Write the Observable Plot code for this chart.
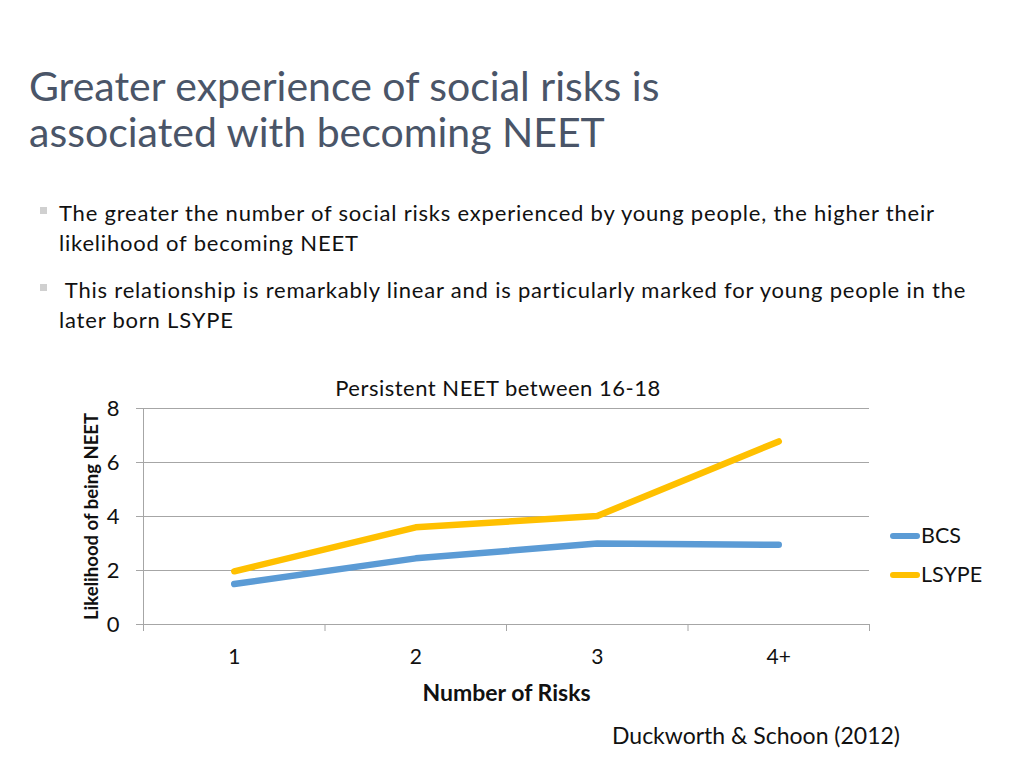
<!DOCTYPE html>
<html><head><meta charset="utf-8">
<script src="https://cdn.jsdelivr.net/npm/d3@7"></script>
<script src="https://cdn.jsdelivr.net/npm/@observablehq/plot@0.6"></script>
<style>
html,body{margin:0;padding:0;background:#fff;}
body{width:1024px;height:768px;position:relative;overflow:hidden;font-family:Lato,"Open Sans",sans-serif;color:#111;}
.abs{position:absolute;white-space:nowrap;}
#title{left:29px;top:63px;font-size:41px;line-height:46px;color:#4a5568;}
.bul{left:59px;font-size:22px;letter-spacing:0.8px;line-height:30px;color:#111;}
.sq{position:absolute;width:7px;height:7px;background:#d0d0d0;}
#ctitle{left:0;width:996px;text-align:center;top:374px;font-size:22px;letter-spacing:0.5px;}
#cap{left:612px;top:721px;font-size:23px;}
.leg{font-size:21.5px;}
.legline{position:absolute;height:6px;width:30px;border-radius:3px;}
#chart{position:absolute;left:0;top:390px;}
</style></head>
<body>
<div id="title" class="abs">Greater experience of social risks is<br>associated with becoming NEET</div>
<div class="sq" style="left:40px;top:207px;"></div>
<div class="abs bul" style="top:198px;">The greater the number of social risks experienced by young people, the higher their<br>likelihood of becoming NEET</div>
<div class="sq" style="left:40px;top:284px;"></div>
<div class="abs bul" style="top:275px;">&nbsp;This relationship is remarkably linear and is particularly marked for young people in the<br>later born LSYPE</div>
<div id="ctitle" class="abs">Persistent NEET between 16-18</div>
<div id="chart"></div>
<div id="legend"></div>
<div id="cap" class="abs">Duckworth &amp; Schoon (2012)</div>
<script>
const categories = ["1", "2", "3", "4+"];
const seriesNames = ["BCS", "LSYPE"];
const bcsValues = [1.5, 2.45, 3.0, 2.95];
const lsypeValues = [1.97, 3.6, 4.02, 6.78];
const seriesColors = ["#5b9bd5", "#ffc000"];
const yTicks = [0, 2, 4, 6, 8];

const rows = [];
categories.forEach((c, i) => {
  rows.push({series: "BCS", idx: i + 0.5, value: bcsValues[i]});
  rows.push({series: "LSYPE", idx: i + 0.5, value: lsypeValues[i]});
});

const chart = Plot.plot({
  width: 1024,
  height: 320,
  marginLeft: 143,
  marginRight: 155,
  marginTop: 18,
  marginBottom: 86,
  style: {fontFamily: "Lato, 'Open Sans', sans-serif", fontSize: "20px", color: "#111", background: "transparent", overflow: "visible"},
  x: {domain: [0, categories.length], axis: null},
  y: {domain: [0, 8], axis: null},
  color: {domain: seriesNames, range: seriesColors},
  marks: [
    Plot.gridY(yTicks, {stroke: "#a6a6a6", strokeOpacity: 1, strokeWidth: 1}),
    Plot.axisY(yTicks, {tickSize: 7, tickPadding: 17, stroke: "#a6a6a6", fontSize: 22, fill: "#111", label: null}),
    Plot.ruleX([0], {stroke: "#a6a6a6"}),
    Plot.axisX([0, 1, 2, 3, 4], {tickSize: 7, tickFormat: () => "", stroke: "#a6a6a6", label: null}),
    Plot.axisX(categories.map((c, i) => i + 0.5), {tickSize: 0, tickPadding: 25, tickFormat: d => categories[d - 0.5], fontSize: 21, fill: "#111", label: null}),
    Plot.ruleY([0], {stroke: "#a6a6a6"}),
    Plot.line(rows, {x: "idx", y: "value", z: "series", stroke: "series", strokeWidth: 6.5, strokeLinecap: "round", strokeLinejoin: "round"}),
    Plot.text(["Number of Risks"], {frameAnchor: "bottom", dy: 69, lineAnchor: "middle", fontWeight: "bold", fontSize: 23, fill: "#111"}),
    Plot.text(["Likelihood of being NEET"], {frameAnchor: "left", dx: -51, rotate: -90, fontWeight: "bold", fontSize: 18.5, fill: "#111", textAnchor: "middle"})
  ]
});
document.getElementById("chart").appendChild(chart);

const legend = document.getElementById("legend");
const legY = [536, 575];
seriesNames.forEach((s, i) => {
  const l = document.createElement("div");
  l.className = "legline";
  l.style.left = "890px";
  l.style.top = (legY[i] - 3) + "px";
  l.style.background = seriesColors[i];
  legend.appendChild(l);
  const t = document.createElement("div");
  t.className = "abs leg";
  t.style.left = "921px";
  t.style.top = (legY[i] - 14) + "px";
  t.textContent = s;
  legend.appendChild(t);
});
</script>
</body></html>
